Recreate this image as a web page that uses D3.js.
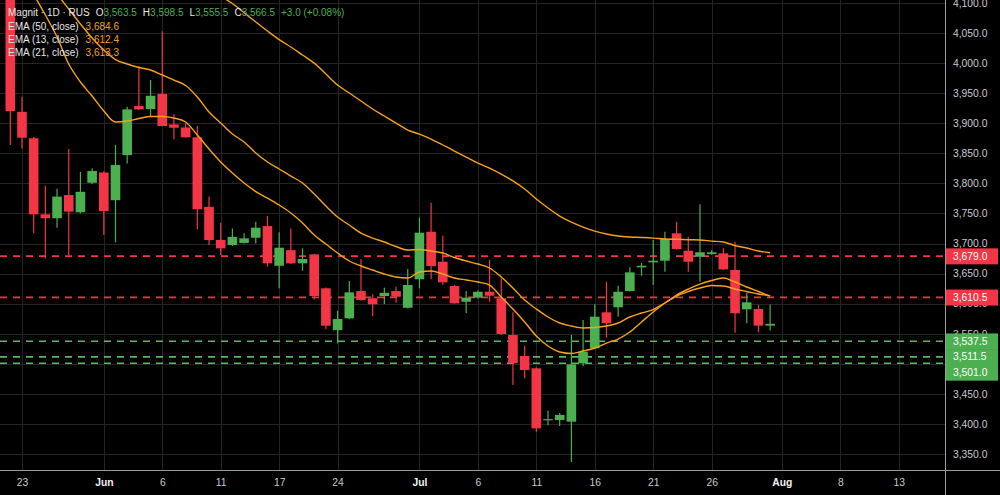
<!DOCTYPE html>
<html>
<head>
<meta charset="utf-8">
<script src="https://cdn.jsdelivr.net/npm/d3@7"></script>
<style>
  body { margin: 0; background: #000; }
  svg { display: block; font-family: "Liberation Sans", Arial, sans-serif; }
</style>
</head>
<body>
<script>
// daily bars, Magnit 1D RUS (bar index = position on the time axis)
const open  = [4125, 3919, 3875, 3748.5, 3742, 3780.6, 3752, 3801, 3818, 3772, 3847, 3928.6, 3923.6, 3948.6, 3898, 3893, 3876.6, 3761, 3706, 3697.5,
               3701, 3709.6, 3729, 3663, 3689, 3667, 3682, 3625.5, 3556, 3575.6, 3621, 3608.9, 3612.7, 3621, 3593.2, 3640.5, 3719.6, 3669.7, 3629.3, 3603.2,
               3610, 3619.8, 3608.9, 3547.8, 3513, 3492.5, 3407, 3406.5, 3403.7, 3500.8, 3525.7, 3585.6, 3594, 3621, 3660.4, 3668.7, 3671.4, 3717, 3688, 3678,
               3682.5, 3683.7, 3656, 3590.6, 3591, 3563.5];
const high  = [4150, 3944, 3877, 3796, 3791, 3857, 3819, 3825, 3820, 3864, 3927.5, 3995, 3972, 4053, 3915, 3900, 3895.4, 3778, 3734.6, 3725,
               3717, 3736, 3746, 3718.6, 3725, 3692, 3683, 3627, 3588, 3637.6, 3673.7, 3615.5, 3626.5, 3628, 3657.6, 3743, 3767.8, 3713, 3631, 3621,
               3622, 3672.5, 3642, 3585.6, 3530, 3494, 3422, 3418, 3548, 3572.8, 3599, 3636.5, 3629.8, 3660.4, 3668, 3705.8, 3719.6, 3736.2, 3711.3, 3765.2,
               3689, 3692, 3703, 3618.2, 3597.7, 3598.5];
const low   = [3864, 3858, 3717, 3675, 3726, 3681, 3750, 3799, 3714, 3702, 3833, 3922, 3911, 3895, 3873, 3876, 3723.6, 3697.5, 3681, 3696,
               3700, 3700, 3661.4, 3625.5, 3666, 3654.8, 3607, 3557.3, 3534, 3574, 3605, 3579.4, 3599.4, 3601.5, 3592, 3625.5, 3640.5, 3632, 3600, 3584,
               3608, 3603.2, 3548, 3464.7, 3475.8, 3387, 3398, 3396.5, 3336.7, 3496, 3524, 3543.4, 3578.3, 3620, 3646.4, 3631, 3653, 3690, 3653, 3636.5,
               3681, 3656, 3551.7, 3567.3, 3552.3, 3555.5];
const close = [3920, 3876, 3748.5, 3742, 3778, 3753, 3786, 3820.5, 3754, 3830.5, 3923, 3923, 3945.7, 3895.4, 3892.5, 3876.6, 3757, 3705.8, 3692, 3711,
               3708.6, 3726.3, 3667, 3693, 3667, 3674.2, 3612.7, 3563.3, 3574.4, 3618.8, 3606, 3599, 3618, 3611.5, 3631, 3718, 3662.6, 3635.5, 3600.5, 3610,
               3619.8, 3613.2, 3549.5, 3500.8, 3489.6, 3392.7, 3408, 3415, 3499, 3520, 3578.3, 3567.3, 3619.8, 3652, 3663, 3671.4, 3707.5, 3690.8, 3669.7, 3685.4,
               3685.4, 3657, 3584, 3602.2, 3563.5, 3566.5];

// indicator lines (null = not drawn / far above the pane)
const ema13 = [4204.6, 4154.8, 4114.8, 4079.9, 4043.3, 3998.5, 3968.5, 3945.2, 3920.3, 3902, 3903.7, 3907.8, 3911.2, 3911.2, 3908.7, 3902, 3880.4, 3857.1, 3835.5, 3817.2,
               3800.6, 3786.4, 3775.6, 3764, 3750.7, 3734.1, 3714.1, 3699.2, 3684.2, 3670.9, 3662.6, 3655.9, 3649.3, 3644.3, 3642.6, 3652.6, 3654.3, 3649.3, 3642.6, 3639.3,
               3636, 3631, 3611, 3591.1, 3569.5, 3546.2, 3529.6, 3519.6, 3517.1, 3521.2, 3526.2, 3534.5, 3541.2, 3552.8, 3569.5, 3586.1, 3601.1, 3614.4, 3624.3, 3632.6,
               3638.5, 3642.6, 3636, 3627.7, 3620.2, 3612.4];
const ema21 = [4224.6, 4196.3, 4168, 4141.5, 4114.8, 4089.9, 4065, 4041.7, 4021.7, 4005.9, 3998.5, 3992.6, 3988.5, 3980.2, 3971.8, 3962.7, 3943.6, 3918.6, 3900.3, 3882,
               3868.8, 3850.5, 3835.5, 3823.9, 3812.2, 3800.6, 3782.3, 3762.3, 3744, 3730.7, 3717.4, 3709.1, 3702.5, 3695, 3689.2, 3690, 3687.5, 3684.2, 3676.7, 3670.9,
               3665.9, 3659.3, 3644.3, 3626, 3606, 3591.1, 3577.8, 3567.8, 3562.8, 3559.5, 3560.3, 3562.8, 3567.8, 3577.8, 3584.4, 3590.2, 3601.1, 3612.7, 3620.2, 3626,
               3630.1, 3629.3, 3624.3, 3620.2, 3616, 3613.3];
const ema50 = [null, null, null, null, null, null, null, null, null, null, null, null, null, null, null, null, null, 4124.8, 4111.5, 4099,
               4083.8, 4068.3, 4053.3, 4039, 4026.7, 4013.4, 4000, 3981.8, 3963.5, 3950.2, 3936.9, 3923.6, 3912, 3900.3, 3888.7, 3882, 3873.7, 3863.8, 3853.8, 3843.8,
               3833.8, 3825.5, 3815.5, 3804, 3790.6, 3774, 3759, 3745.7, 3735.7, 3727.4, 3720.7, 3715.8, 3712.4, 3710.8, 3710, 3709, 3707.5, 3707, 3706.3, 3705.8,
               3704, 3702.5, 3696.6, 3692.5, 3687.5, 3684.6];

// horizontal levels drawn on the chart
const redLevels = [3679.0, 3610.5];
const greenLevels = [3537.5, 3511.5, 3501.0];

// axes
const priceTicks = [3350, 3400, 3450, 3500, 3550, 3600, 3650, 3700, 3750, 3800, 3850, 3900, 3950, 4000, 4050, 4100];
const tickBars   = [1, 8, 13, 18, 23, 28, 35, 40, 45, 50, 55, 60, 66, 71, 76];
const tickLabels = ["23", "Jun", "6", "11", "17", "24", "Jul", "6", "11", "16", "21", "26", "Aug", "8", "13"];
const monthLabels = ["Jun", "Jul", "Aug"];

const width = 1000, height = 495;
const paneRight = 945, paneBottom = 470;
const upColor = "#4caf50", downColor = "#f23645", emaColor = "#f7a21b";

const svg = d3.select("body").append("svg")
  .attr("width", width).attr("height", height);
svg.append("rect").attr("width", width).attr("height", height).attr("fill", "#000");

const x = d3.scaleLinear().domain([-0.88, 79.96]).range([0, paneRight]);
const y = d3.scaleLinear().domain([3323.4, 4104.9]).range([paneBottom, 0]);

svg.append("clipPath").attr("id", "pane")
  .append("rect").attr("width", paneRight).attr("height", paneBottom);

// grid
const grid = svg.append("g").attr("stroke", "#252525").attr("stroke-width", 1);
grid.selectAll(".hg").data(priceTicks).enter().append("line")
  .attr("x1", 0).attr("x2", paneRight)
  .attr("y1", d => Math.round(y(d)) + 0.5).attr("y2", d => Math.round(y(d)) + 0.5);
grid.selectAll(".vg").data(tickBars).enter().append("line")
  .attr("y1", 0).attr("y2", paneBottom)
  .attr("x1", d => Math.round(x(d)) + 0.5).attr("x2", d => Math.round(x(d)) + 0.5);

const pane = svg.append("g").attr("clip-path", "url(#pane)");

// level lines
pane.selectAll(".lvlR").data(redLevels).enter().append("line")
  .attr("x1", 0).attr("x2", paneRight)
  .attr("y1", d => y(d)).attr("y2", d => y(d))
  .attr("stroke", downColor).attr("stroke-width", 1.6).attr("stroke-dasharray", "7,6");
pane.selectAll(".lvlG").data(greenLevels).enter().append("line")
  .attr("x1", 0).attr("x2", paneRight)
  .attr("y1", d => y(d)).attr("y2", d => y(d))
  .attr("stroke", "#5cb860").attr("stroke-width", 1.6).attr("stroke-dasharray", "7,6");

// candles
const bars = d3.range(close.length);
const bodyW = 9.6;
const candle = pane.selectAll(".candle").data(bars).enter().append("g");
candle.append("line")
  .attr("x1", i => x(i)).attr("x2", i => x(i))
  .attr("y1", i => y(high[i])).attr("y2", i => y(low[i]))
  .attr("stroke", i => close[i] >= open[i] ? upColor : downColor)
  .attr("stroke-width", 1.2);
candle.append("rect")
  .attr("x", i => x(i) - bodyW / 2)
  .attr("width", bodyW)
  .attr("y", i => y(Math.max(open[i], close[i])))
  .attr("height", i => Math.max(1.2, Math.abs(y(open[i]) - y(close[i]))))
  .attr("fill", i => close[i] >= open[i] ? upColor : downColor);

// moving averages
const line = d3.line()
  .defined(d => d[1] != null)
  .x(d => x(d[0])).y(d => y(d[1]))
  .curve(d3.curveMonotoneX);
[ema50, ema13, ema21].forEach(series => {
  pane.append("path")
    .attr("d", line(series.map((v, i) => [i, v])))
    .attr("fill", "none").attr("stroke", emaColor).attr("stroke-width", 1.4);
});

// price axis
const yAxis = svg.append("g").attr("transform", "translate(" + paneRight + ",0)")
  .call(d3.axisRight(y).tickValues(priceTicks).tickFormat(d3.format(",.1f")).tickSize(0).tickPadding(8));
yAxis.select(".domain").remove();
yAxis.selectAll("text").attr("fill", "#c9cbd0").style("font-size", "10.3px");

// time axis
const xAxis = svg.append("g").attr("transform", "translate(0," + paneBottom + ")")
  .call(d3.axisBottom(x).tickValues(tickBars).tickFormat((d, i) => tickLabels[i]).tickSize(0).tickPadding(9));
xAxis.select(".domain").remove();
xAxis.selectAll("text")
  .attr("fill", (d, i) => monthLabels.includes(tickLabels[i]) ? "#f2f2f2" : "#c9cbd0")
  .style("font-weight", (d, i) => monthLabels.includes(tickLabels[i]) ? "bold" : "normal")
  .style("font-size", "10.3px");

// pane borders
svg.append("line").attr("x1", 0).attr("x2", width).attr("y1", paneBottom + 0.5).attr("y2", paneBottom + 0.5)
  .attr("stroke", "#9a9ca2").attr("stroke-width", 1);
svg.append("line").attr("x1", paneRight + 0.5).attr("x2", paneRight + 0.5).attr("y1", 0).attr("y2", height)
  .attr("stroke", "#9a9ca2").attr("stroke-width", 1);

// price tags on the scale, pushed apart when they collide
const tagH = 15.6;
const tags = redLevels.map(v => ({ v: v, c: downColor }))
  .concat(greenLevels.map(v => ({ v: v, c: upColor })))
  .sort((a, b) => b.v - a.v);
let lastY = -Infinity;
tags.forEach(t => {
  t.y = Math.max(y(t.v), lastY + tagH);
  lastY = t.y;
});
const tag = svg.selectAll(".tag").data(tags).enter().append("g");
tag.append("rect")
  .attr("x", paneRight + 1).attr("width", 52)
  .attr("y", d => d.y - tagH / 2).attr("height", tagH + 0.4)
  .attr("fill", d => d.c);
tag.append("text")
  .attr("x", paneRight + 8).attr("y", d => d.y).attr("dy", "0.35em")
  .attr("fill", "#fff").style("font-size", "10.3px")
  .text(d => d3.format(",.1f")(d.v));

// legend
const last = close.length - 1;
const fmt = d3.format(",.1f");
const change = close[last] - close[last - 1];
const legend = svg.append("g").style("font-size", "10px");
const row1 = legend.append("text").attr("x", 8).attr("y", 16);
row1.append("tspan").attr("fill", "#e6e6e6").text("Magnit · 1D · RUS");
[["O", open[last]], ["H", high[last]], ["L", low[last]], ["C", close[last]]].forEach(p => {
  row1.append("tspan").attr("fill", "#e6e6e6").attr("dx", 6).text(p[0]);
  row1.append("tspan").attr("fill", upColor).text(fmt(p[1]));
});
row1.append("tspan").attr("fill", upColor).attr("dx", 6)
  .text("+" + fmt(change) + " (+" + d3.format(".2f")(change / close[last - 1] * 100) + "%)");

[["EMA (50, close)", ema50[last]], ["EMA (13, close)", ema13[last]], ["EMA (21, close)", ema21[last]]].forEach((r, k) => {
  const t = legend.append("text").attr("x", 8).attr("y", 29.5 + k * 13.3);
  t.append("tspan").attr("fill", "#e6e6e6").text(r[0]);
  t.append("tspan").attr("fill", emaColor).attr("dx", 7).text(fmt(r[1]));
});
</script>
</body>
</html>
